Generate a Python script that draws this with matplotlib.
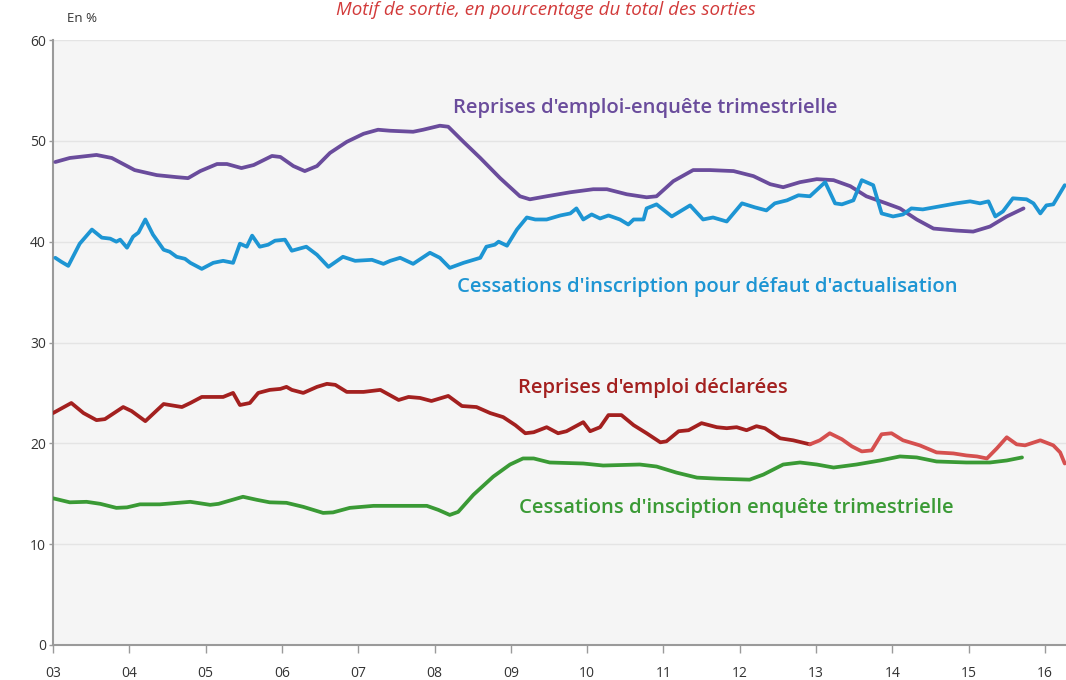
import matplotlib
matplotlib.use("Agg")
import matplotlib.pyplot as plt

# ---------------- data (decimal years, %) ----------------
purple_x = [2003.03, 2003.22, 2003.57, 2003.77, 2004.07, 2004.36, 2004.62, 2004.77, 2004.93,
            2005.15, 2005.28, 2005.47, 2005.63, 2005.87, 2005.98, 2006.15, 2006.30, 2006.46,
            2006.63, 2006.85, 2007.07, 2007.26, 2007.42, 2007.72, 2007.85, 2008.07, 2008.18,
            2008.38, 2008.60, 2008.86, 2009.12, 2009.25, 2009.47, 2009.78, 2010.08, 2010.26,
            2010.52, 2010.78, 2010.91, 2011.13, 2011.39, 2011.61, 2011.92, 2012.18, 2012.40,
            2012.57, 2012.79, 2013.01, 2013.23, 2013.45, 2013.66, 2013.92, 2014.10, 2014.32,
            2014.54, 2014.84, 2015.06, 2015.28, 2015.50, 2015.72]
purple_y = [47.9, 48.3, 48.6, 48.3, 47.1, 46.6, 46.4, 46.3, 47.0,
            47.7, 47.7, 47.3, 47.6, 48.5, 48.4, 47.5, 47.0, 47.5,
            48.8, 49.9, 50.7, 51.1, 51.0, 50.9, 51.1, 51.5, 51.4,
            49.9, 48.3, 46.3, 44.5, 44.2, 44.5, 44.9, 45.2, 45.2,
            44.7, 44.4, 44.5, 46.0, 47.1, 47.1, 47.0, 46.5, 45.7,
            45.4, 45.9, 46.2, 46.1, 45.5, 44.5, 43.8, 43.3, 42.2,
            41.3, 41.1, 41.0, 41.5, 42.5, 43.3]

blue_x = [2003.03, 2003.11, 2003.20, 2003.35, 2003.51, 2003.64, 2003.75, 2003.83, 2003.88,
          2003.97, 2004.05, 2004.12, 2004.21, 2004.31, 2004.45, 2004.53, 2004.62, 2004.73,
          2004.80, 2004.95, 2005.10, 2005.23, 2005.36, 2005.45, 2005.54, 2005.61, 2005.71,
          2005.82, 2005.91, 2006.04, 2006.13, 2006.32, 2006.46, 2006.61, 2006.80, 2006.96,
          2007.18, 2007.33, 2007.42, 2007.55, 2007.72, 2007.94, 2008.07, 2008.20, 2008.38,
          2008.60, 2008.68, 2008.79, 2008.84, 2008.95, 2009.08, 2009.21, 2009.32, 2009.47,
          2009.65, 2009.78, 2009.86, 2009.95, 2010.06, 2010.17, 2010.28, 2010.43, 2010.54,
          2010.61, 2010.74, 2010.78, 2010.91, 2011.11, 2011.35, 2011.52, 2011.65, 2011.83,
          2012.03, 2012.20, 2012.35, 2012.46, 2012.62, 2012.77, 2012.92, 2013.12, 2013.25,
          2013.34, 2013.49, 2013.60, 2013.75, 2013.86, 2014.01, 2014.14, 2014.25, 2014.40,
          2014.62, 2014.84, 2015.02, 2015.15, 2015.26, 2015.35, 2015.45, 2015.58, 2015.76,
          2015.85, 2015.94, 2016.02, 2016.11, 2016.26]
blue_y = [38.4, 38.0, 37.6, 39.8, 41.2, 40.4, 40.3, 40.0, 40.2,
          39.4, 40.5, 40.9, 42.2, 40.7, 39.2, 39.0, 38.5, 38.3,
          37.9, 37.3, 37.9, 38.1, 37.9, 39.8, 39.5, 40.6, 39.5,
          39.7, 40.1, 40.2, 39.1, 39.5, 38.7, 37.5, 38.5, 38.1,
          38.2, 37.8, 38.1, 38.4, 37.8, 38.9, 38.4, 37.4, 37.9,
          38.4, 39.5, 39.7, 40.0, 39.6, 41.2, 42.4, 42.2, 42.2,
          42.6, 42.8, 43.3, 42.2, 42.7, 42.3, 42.6, 42.2, 41.7,
          42.2, 42.2, 43.3, 43.7, 42.5, 43.6, 42.2, 42.4, 42.0,
          43.8, 43.4, 43.1, 43.8, 44.1, 44.6, 44.5, 45.9, 43.8,
          43.7, 44.1, 46.1, 45.6, 42.8, 42.5, 42.7, 43.3, 43.2,
          43.5, 43.8, 44.0, 43.8, 44.0, 42.5, 43.0, 44.3, 44.2,
          43.8, 42.8, 43.6, 43.7, 45.6]

red_dark_x = [2003.00, 2003.24, 2003.40, 2003.57, 2003.68, 2003.92, 2004.03, 2004.21, 2004.45,
              2004.69, 2004.80, 2004.95, 2005.23, 2005.36, 2005.45, 2005.58, 2005.69, 2005.84,
              2005.98, 2006.06, 2006.13, 2006.28, 2006.46, 2006.59, 2006.70, 2006.85, 2007.07,
              2007.29, 2007.53, 2007.66, 2007.81, 2007.96, 2008.18, 2008.36, 2008.55, 2008.73,
              2008.90, 2009.06, 2009.19, 2009.30, 2009.47, 2009.62, 2009.73, 2009.95, 2010.04,
              2010.17, 2010.28, 2010.45, 2010.61, 2010.78, 2010.96, 2011.04, 2011.20, 2011.33,
              2011.50, 2011.70, 2011.83, 2011.96, 2012.09, 2012.22, 2012.33, 2012.53, 2012.70,
              2012.92]
red_dark_y = [23.0, 24.0, 23.0, 22.3, 22.4, 23.6, 23.2, 22.2, 23.9,
              23.6, 24.0, 24.6, 24.6, 25.0, 23.8, 24.0, 25.0, 25.3,
              25.4, 25.6, 25.3, 25.0, 25.6, 25.9, 25.8, 25.1, 25.1,
              25.3, 24.3, 24.6, 24.5, 24.2, 24.7, 23.7, 23.6, 23.0,
              22.6, 21.8, 21.0, 21.1, 21.6, 21.0, 21.2, 22.1, 21.2,
              21.6, 22.8, 22.8, 21.8, 21.0, 20.1, 20.2, 21.2, 21.3,
              22.0, 21.6, 21.5, 21.6, 21.3, 21.7, 21.5, 20.5, 20.3,
              19.9]

red_light_x = [2012.92, 2013.05, 2013.18, 2013.34, 2013.47, 2013.60, 2013.73, 2013.86, 2013.99,
               2014.14, 2014.36, 2014.58, 2014.80, 2014.97, 2015.11, 2015.24, 2015.37, 2015.50,
               2015.63, 2015.74, 2015.94, 2016.11, 2016.20, 2016.26]
red_light_y = [19.9, 20.3, 21.0, 20.4, 19.7, 19.2, 19.3, 20.9, 21.0,
               20.3, 19.8, 19.1, 19.0, 18.8, 18.7, 18.5, 19.5, 20.6,
               19.9, 19.8, 20.3, 19.8, 19.1, 18.0]

green_x = [2003.00, 2003.22, 2003.44, 2003.62, 2003.83, 2003.97, 2004.14, 2004.40, 2004.80,
           2005.06, 2005.17, 2005.49, 2005.67, 2005.84, 2006.06, 2006.28, 2006.54, 2006.67,
           2006.89, 2007.20, 2007.51, 2007.90, 2008.05, 2008.20, 2008.31, 2008.51, 2008.77,
           2008.99, 2009.16, 2009.30, 2009.51, 2009.95, 2010.21, 2010.69, 2010.91, 2011.17,
           2011.44, 2011.70, 2012.13, 2012.31, 2012.57, 2012.79, 2013.01, 2013.23, 2013.53,
           2013.84, 2014.10, 2014.32, 2014.58, 2014.97, 2015.28, 2015.50, 2015.70]
green_y = [14.55, 14.15, 14.2, 14.0, 13.6, 13.65, 13.95, 13.95, 14.2,
           13.9, 14.0, 14.7, 14.4, 14.15, 14.1, 13.7, 13.1, 13.15,
           13.6, 13.8, 13.8, 13.8, 13.4, 12.9, 13.2, 14.9, 16.7,
           17.9, 18.5, 18.5, 18.1, 18.0, 17.8, 17.9, 17.7, 17.1,
           16.6, 16.5, 16.4, 16.9, 17.9, 18.1, 17.9, 17.6, 17.9,
           18.3, 18.7, 18.6, 18.2, 18.1, 18.1, 18.3, 18.6]

year_ticks = list(range(2003, 2017))
year_labels = ["03", "04", "05", "06", "07", "08", "09", "10", "11", "12", "13", "14", "15", "16"]
y_ticks = [0, 10, 20, 30, 40, 50, 60]

series_labels = [
    ("Reprises d'emploi-enquête trimestrielle", 2010.76, 53.3, "#6a4c9c"),
    ("Cessations d'inscription pour défaut d'actualisation", 2011.57, 35.5, "#1d95d3"),
    ("Reprises d'emploi déclarées", 2010.86, 25.5, "#a3201f"),
    ("Cessations d'insciption enquête trimestrielle", 2011.95, 13.6, "#3a9a35"),
]

# ---------------- figure ----------------
plt.rcParams['font.family'] = ['Open Sans', 'DejaVu Sans']
fig = plt.figure(figsize=(10.66, 6.80), dpi=100)
fig.patch.set_facecolor("white")
ax = fig.add_axes([53/1066, 35/680, 1 - 53/1066, 605/680])
ax.set_facecolor("#f5f5f5")

lw = 2.7
ax.plot(purple_x, purple_y, color="#6a4c9c", lw=lw, solid_capstyle="round", zorder=3)
ax.plot(blue_x, blue_y, color="#1d95d3", lw=lw, solid_capstyle="round", zorder=3)
ax.plot(red_dark_x, red_dark_y, color="#a3201f", lw=lw, solid_capstyle="round", zorder=3)
ax.plot(red_light_x, red_light_y, color="#d5504f", lw=lw, solid_capstyle="round", zorder=3)
ax.plot(green_x, green_y, color="#3a9a35", lw=lw, solid_capstyle="round", zorder=3)

for text, x, y, c in series_labels:
    ax.text(x, y, text, color=c, fontsize=14.6, fontweight="semibold", ha="center", va="center",
            zorder=4)

ax.set_xlim(2003.0, 2003.0 + 1013/76.3)
ax.set_ylim(0, 60)
ax.set_xticks(year_ticks)
ax.set_xticklabels(year_labels)
ax.set_yticks(y_ticks)
ax.tick_params(axis="both", colors="#9a9a9a", labelcolor="#333333", labelsize=10)
ax.tick_params(axis="x", pad=9, length=6, width=1)
ax.tick_params(axis="y", pad=2, length=3, width=1)
ax.yaxis.grid(True, color="#e4e4e4", lw=1)
ax.set_axisbelow(True)
for s in ["top", "right"]:
    ax.spines[s].set_visible(False)
ax.spines["left"].set_color("#9a9a9a")
ax.spines["left"].set_linewidth(1.5)
ax.spines["bottom"].set_color("#9a9a9a")
ax.spines["bottom"].set_linewidth(1.5)

fig.text(82/1066, 1 - 18/680, "En %", fontsize=9.5, color="#333333", ha="center", va="center")
fig.text(546/1066, 1 - 10/680, "Motif de sortie, en pourcentage du total des sorties",
         fontsize=13.5, color="#d23a3a", style="italic", ha="center", va="center")

fig.savefig("out.png", dpi=100, facecolor="white")
